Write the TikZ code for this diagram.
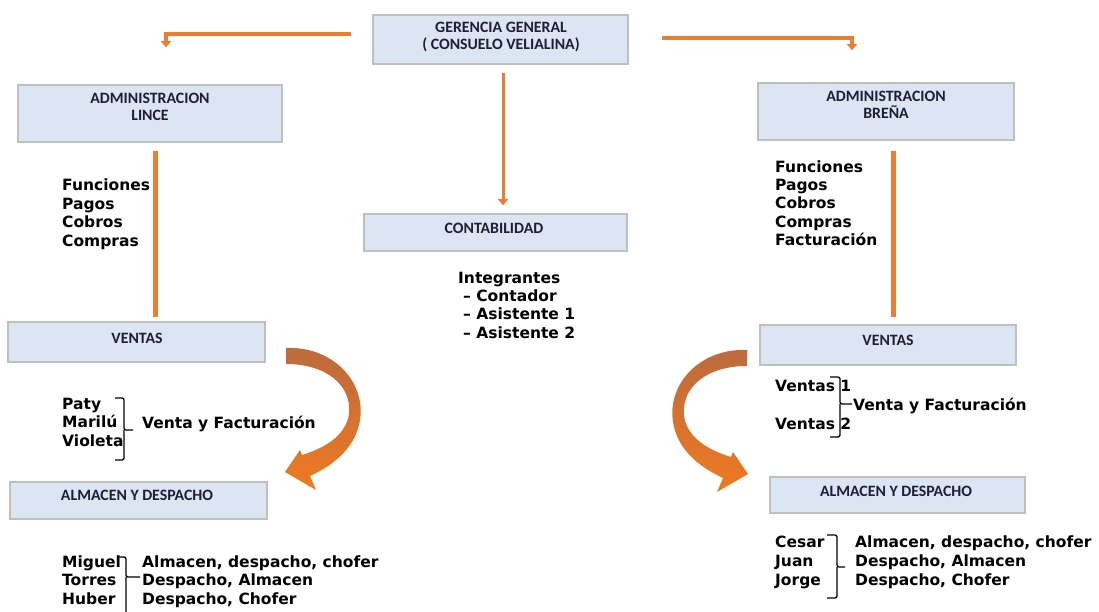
\documentclass[tikz,border=0pt]{standalone}
\usepackage{fontspec}
\newfontfamily\bodyfont{DejaVu Sans}
\newfontfamily\boxfont{Carlito}
\usetikzlibrary{arrows.meta,calc}

\definecolor{linkorange}{HTML}{ED7D31}
\definecolor{boxfill}{HTML}{DCE6F2}
\definecolor{boxline}{HTML}{BFBFBF}
\definecolor{boxink}{HTML}{1E1E38}
\definecolor{bendtop}{HTML}{BC6A3E}
\definecolor{bendbot}{HTML}{F07A20}

\tikzset{
  unitbox/.style={draw=boxline, line width=1.5pt, fill=boxfill, inner sep=0pt},
  boxlabel/.style={font=\boxfont\bfseries\fontsize{15.8}{17}\selectfont,
    align=center, text=boxink, inner sep=0pt},
  % multi-line lists are anchored on the baseline of their last line
  listtext/.style={font=\bodyfont\bfseries\fontsize{15.5}{18.4}\selectfont,
    align=left, anchor=base west, inner sep=0pt},
  link/.style={draw=linkorange, line width=4pt},
  linktip/.style={link, -{Triangle[width=10pt,length=6pt]}},
  bracket/.style={draw=black, line width=1.3pt, rounded corners=2pt},
  % wide curved arrow, shaded from brown to orange
  bentarrow/.pic={
    \shade[top color=bendtop, bottom color=bendbot]
      (286,348) .. controls (333,346) and (366,382) .. (360,420)
      .. controls (356,446) and (336,464) .. (310,476)
      -- (316,490) -- (285,472) -- (300,450) -- (302,455)
      .. controls (328,447) and (346,434) .. (349,414)
      .. controls (352,385) and (326,364) .. (286,364) -- cycle;
  }
}

\begin{document}
\begin{tikzpicture}[x=1pt, y=-1pt]
\useasboundingbox (0,0) rectangle (1099,612);
\clip (0,0) rectangle (1099,612);

% ---------- boxes ----------
\node[unitbox, minimum width=255pt, minimum height=49pt] (ger)   at (500.5,39.5) {};
\node[unitbox, minimum width=264pt, minimum height=57pt] (lince) at (150,113.5) {};
\node[unitbox, minimum width=256pt, minimum height=57pt] (brena) at (886,111.5) {};
\node[unitbox, minimum width=263pt, minimum height=37pt] (conta) at (495.5,232.5) {};
\node[unitbox, minimum width=257pt, minimum height=40pt] (vl)    at (136.5,342) {};
\node[unitbox, minimum width=256pt, minimum height=40pt] (vr)    at (888,345) {};
\node[unitbox, minimum width=257pt, minimum height=37pt] (al)    at (138.5,500.5) {};
\node[unitbox, minimum width=255pt, minimum height=36pt] (ar)    at (897.5,495) {};

% ---------- box titles ----------
\node[boxlabel] (gert) at (501,37) {GERENCIA GENERAL\\( CONSUELO VELIALINA)};
\node[boxlabel] (lincet) at (150,106.5) {ADMINISTRACION\\LINCE};
\node[boxlabel] (brenat) at (886,105) {ADMINISTRACION\\BREÑA};
\node[boxlabel] (contat) at (494,228) {CONTABILIDAD};
\node[boxlabel] (vlt) at (137,338) {VENTAS};
\node[boxlabel] (vrt) at (888,340) {VENTAS};
\node[boxlabel] (alt) at (137,495) {ALMACEN Y DESPACHO};
\node[boxlabel] (art) at (896,491) {ALMACEN Y DESPACHO};

% ---------- connectors ----------
\coordinate (gl) at ($(ger.west)+(-21,-5.5)$);
\coordinate (ll) at ($(lince.north)+(16,-37)$);
\coordinate (gr) at ($(ger.east)+(33,-1.5)$);
\coordinate (lr) at ($(brena.north)+(-34,-32)$);
\draw[linktip] (gl) -| (ll);
\draw[linktip] (gr) -| (lr);

\coordinate (cx) at (503,0);
\draw[linktip, line width=3pt, shorten <=8pt, shorten >=8pt] (ger.south -| cx) -- (conta.north -| cx);

\coordinate (lx) at (155,0);
\coordinate (bx) at (893,0);
\draw[link, line width=5pt, shorten <=8pt, shorten >=4pt] (lince.south -| lx) -- (vl.north -| lx);
\draw[link, line width=5pt, shorten <=10pt, shorten >=7pt] (brena.south -| bx) -- (vr.north -| bx);

\pic at (0,0) {bentarrow};
\pic[xscale=-1] at (1033,2) {bentarrow};

% ---------- lists ----------
\node[listtext] (lincel) at (62,246.2) {Funciones\\Pagos\\Cobros\\Compras};
\node[listtext] (brenal) at (775,245.6) {Funciones\\Pagos\\Cobros\\Compras\\Facturación};
\node[listtext] (contal) at (458,338.2) {Integrantes\\\hspace*{5pt}– Contador\\\hspace*{5pt}– Asistente 1\\\hspace*{5pt}– Asistente 2};

\node[listtext, font=\bodyfont\bfseries\fontsize{15.5}{18.5}\selectfont] (vln) at (62,446) {Paty\\Marilú\\Violeta};
\node[listtext] (vlr) at (142,428) {Venta y Facturación};
\draw[bracket] (115,398) -| (124,430) -- (133,430);
\draw[bracket] (124,430) |- (115,460);

\node[listtext] (vr1) at (775,391) {Ventas 1};
\node[listtext] (vr2) at (775,429) {Ventas 2};
\node[listtext] (vrr) at (853,410) {Venta y Facturación};
\draw[bracket] (830,377) -| (840,404) -- (852,404);
\draw[bracket] (840,404) |- (830,437);

\node[listtext, font=\bodyfont\bfseries\fontsize{15.5}{18.5}\selectfont] (aln) at (62,604) {Miguel\\Torres\\Huber};
\node[listtext, font=\bodyfont\bfseries\fontsize{15.5}{18.5}\selectfont] (alr) at (142,604) {Almacen, despacho, chofer\\Despacho, Almacen\\Despacho, Chofer};
\draw[bracket] (117,557) -| (126,577) -- (140,577);
\draw[bracket] (126,577) |- (117,622);

\node[listtext, font=\bodyfont\bfseries\fontsize{15.5}{19}\selectfont] (arn) at (775,585) {Cesar\\Juan\\Jorge};
\node[listtext, font=\bodyfont\bfseries\fontsize{15.5}{19}\selectfont] (arr) at (855,585) {Almacen, despacho, chofer\\Despacho, Almacen\\Despacho, Chofer};
\draw[bracket] (827,535) -| (837,567) -- (845,567);
\draw[bracket] (837,567) |- (827,598);
\end{tikzpicture}
\end{document}
